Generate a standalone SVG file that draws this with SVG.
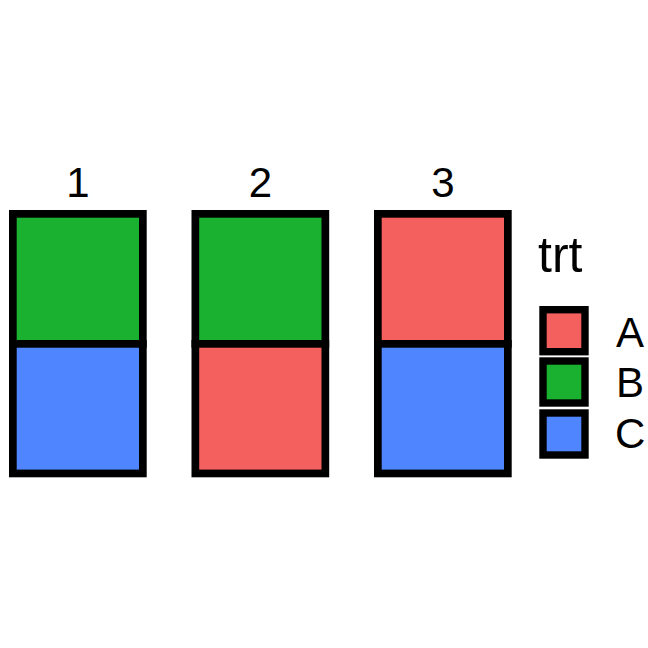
<svg xmlns="http://www.w3.org/2000/svg" width="648" height="648" viewBox="0 0 648 648">
<style>
.b{stroke:#000;stroke-width:7.7}
.k{stroke:#000;stroke-width:7.4}
.A{fill:#F3605D}.B{fill:#19B12F}.C{fill:#4F86FF}
text{font-family:"Liberation Sans",Arial,sans-serif;fill:#000}
.s{font-size:42px;text-anchor:middle}
.l{font-size:42px}
</style>
<rect width="648" height="648" fill="#fff"/>
<g id="panel1">
<text class="s" x="78" y="197">1</text>
<rect class="b B" x="12.85" y="213.85" width="130" height="130"/>
<rect class="b C" x="12.85" y="343.85" width="130" height="129.6"/>
</g>
<g id="panel2">
<text class="s" x="260.5" y="197">2</text>
<rect class="b B" x="195.35" y="213.85" width="130" height="130"/>
<rect class="b A" x="195.35" y="343.85" width="130" height="129.6"/>
</g>
<g id="panel3">
<text class="s" x="443" y="197">3</text>
<rect class="b A" x="377.85" y="213.85" width="130" height="130"/>
<rect class="b C" x="377.85" y="343.85" width="130" height="129.6"/>
</g>
<g id="legend">
<text x="538" y="271.7" style="font-size:50px">trt</text>
<rect class="k A" x="543" y="309.7" width="42" height="42"/>
<rect class="k B" x="543" y="361" width="42" height="42"/>
<rect class="k C" x="543" y="413" width="42" height="42"/>
<text class="l" x="616" y="346.7">A</text>
<text class="l" x="616" y="397.3">B</text>
<text class="l" x="615" y="448">C</text>
</g>
</svg>
